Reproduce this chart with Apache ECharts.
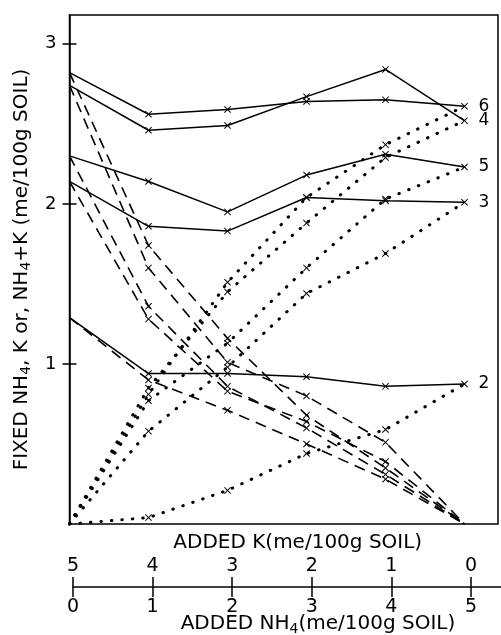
<!DOCTYPE html>
<html>
<head>
<meta charset="utf-8">
<script src="https://cdn.jsdelivr.net/npm/echarts@6/dist/echarts.min.js"></script>
<style>
html,body{margin:0;padding:0;background:#fff;}
#chart{width:501px;height:635px;}
</style>
</head>
<body>
<div id="chart"></div>
<script>
// ---- data ----
const addedNH4 = [0, 1, 2, 3, 4, 5];
const addedKTicks = [0, 1, 2, 3, 4, 5];
const yTicks = [1, 2, 3];
const soilLabels = ['6', '4', '5', '3', '2'];

// solid: fixed NH4 + K
const total6 = [2.82, 2.56, 2.59, 2.64, 2.65, 2.61];
const total4 = [2.74, 2.46, 2.49, 2.67, 2.84, 2.52];
const total5 = [2.30, 2.14, 1.95, 2.18, 2.31, 2.23];
const total3 = [2.14, 1.86, 1.83, 2.04, 2.02, 2.01];
const total2 = [1.29, 0.94, 0.94, 0.92, 0.86, 0.875];

// dashed: fixed K
const fixedK6 = [2.82, 1.74, 1.16, 0.68, 0.35, 0];
const fixedK4 = [2.74, 1.60, 1.01, 0.80, 0.51, 0];
const fixedK5 = [2.30, 1.36, 0.86, 0.60, 0.31, 0];
const fixedK3 = [2.14, 1.28, 0.83, 0.64, 0.39, 0];
const fixedK2 = [1.29, 0.90, 0.71, 0.50, 0.28, 0];

// dotted: fixed NH4
const fixedN6 = [0, 0.81, 1.51, 2.04, 2.37, 2.61];
const fixedN4 = [0, 0.85, 1.45, 1.88, 2.29, 2.52];
const fixedN5 = [0, 0.77, 1.13, 1.60, 2.03, 2.23];
const fixedN3 = [0, 0.58, 0.98, 1.44, 1.69, 2.01];
const fixedN2 = [0, 0.04, 0.21, 0.44, 0.59, 0.875];

const totals = [total6, total4, total5, total3, total2];
const fixedK = [fixedK6, fixedK4, fixedK5, fixedK3, fixedK2];
const fixedN = [fixedN6, fixedN4, fixedN5, fixedN3, fixedN2];

// ---- styling ----
const FONT = 'DejaVu Sans';
const XSYM = 'path://M1,0L5,4L9,0L10,1L6,5L10,9L9,10L5,6L1,10L0,9L4,5L0,1Z';
const INK = '#000';

function mk(vals, marked) {
  return vals.map((v, i) => ({
    value: [addedNH4[i], v],
    symbol: marked.indexOf(i) >= 0 ? XSYM : 'none'
  }));
}

const series = [];
totals.forEach((vals, s) => {
  series.push({
    type: 'line', xAxisIndex: 0, yAxisIndex: 0,
    data: mk(vals, [1, 2, 3, 4, 5]),
    symbolSize: 7, showAllSymbol: true,
    lineStyle: { color: INK, width: 1.5 },
    itemStyle: { color: INK },
    endLabel: { show: true, formatter: soilLabels[s], color: INK, fontSize: 17, fontFamily: FONT, distance: 14 },
    silent: true, animation: false, z: 3
  });
});
fixedK.forEach((vals) => {
  series.push({
    type: 'line', xAxisIndex: 0, yAxisIndex: 0,
    data: mk(vals, [1, 2, 3, 4]),
    symbolSize: 7, showAllSymbol: true,
    lineStyle: { color: INK, width: 1.6, type: [11, 7] },
    itemStyle: { color: INK },
    silent: true, animation: false, z: 2
  });
});
fixedN.forEach((vals) => {
  series.push({
    type: 'line', xAxisIndex: 0, yAxisIndex: 0,
    data: mk(vals, [1, 2, 3, 4]),
    symbolSize: 7, showAllSymbol: true,
    lineStyle: { color: INK, width: 3, type: [0.5, 10], cap: 'round' },
    itemStyle: { color: INK },
    silent: true, animation: false, z: 2
  });
});

const rich = {
  a: { fontSize: 20, fontFamily: FONT, color: INK },
  b: { fontSize: 14, fontFamily: FONT, color: INK, padding: [10, 0, 0, 0] }
};

const option = {
  backgroundColor: '#fff',
  animation: false,
  grid: [
    { left: 69.5, top: 15, width: 428.5, height: 509, show: true, borderColor: INK, borderWidth: 1.5, containLabel: false },
    { left: 73, top: 587, width: 428, height: 0, containLabel: false }
  ],
  xAxis: [
    {
      type: 'value', gridIndex: 0, min: 0, max: 428.5 / 79,
      axisLine: { show: false }, axisTick: { show: false }, axisLabel: { show: false }, splitLine: { show: false },
      name: '{a|ADDED K(me/100g SOIL)}', nameLocation: 'middle', nameGap: 9,
      nameTextStyle: { rich: rich, padding: [0, 0, 0, 28] }
    },
    {
      type: 'value', gridIndex: 1, position: 'bottom', min: 0, max: 428 / 79.6,
      axisLine: { show: true, lineStyle: { color: INK, width: 1.5 } },
      axisTick: { show: true, length: 10, customValues: addedNH4, lineStyle: { color: INK, width: 1.5 } },
      axisLabel: { show: true, customValues: addedNH4, margin: 11, color: INK, fontSize: 19, fontFamily: FONT },
      splitLine: { show: false },
      name: '{a|ADDED NH}{b|4}{a|(me/100g SOIL)}', nameLocation: 'middle', nameGap: 25,
      nameMoveOverlap: false,
      nameTextStyle: { rich: rich, padding: [0, 0, 0, 62] }
    },
    {
      type: 'value', gridIndex: 1, position: 'top', inverse: true, min: 5 - 428 / 79.6, max: 5,
      axisLine: { show: false },
      axisTick: { show: true, length: 10, customValues: addedKTicks, lineStyle: { color: INK, width: 1.5 } },
      axisLabel: { show: true, customValues: addedKTicks, margin: 11, color: INK, fontSize: 19, fontFamily: FONT },
      splitLine: { show: false }
    }
  ],
  yAxis: [
    {
      type: 'value', gridIndex: 0, min: 0, max: 3.18,
      axisLine: { show: true, lineStyle: { color: INK, width: 1.5 } },
      axisTick: { show: true, length: 7, customValues: yTicks, lineStyle: { color: INK, width: 1.5 } },
      axisLabel: { show: true, customValues: yTicks, margin: 13, color: INK, fontSize: 18, fontFamily: FONT },
      splitLine: { show: false },
      name: '{a|FIXED NH}{b|4}{a|, K or, NH}{b|4}{a|+K (me/100g SOIL)}',
      nameLocation: 'middle', nameGap: 36, nameRotate: 90,
      nameTextStyle: { rich: rich }
    },
    {
      type: 'value', gridIndex: 0, min: 0, max: 3.18, position: 'left',
      axisLine: { show: false },
      axisTick: { show: true, inside: true, length: 7, customValues: yTicks, lineStyle: { color: INK, width: 1.5 } },
      axisLabel: { show: false }, splitLine: { show: false }
    },
    {
      type: 'value', gridIndex: 1, min: 0, max: 1, show: false
    }
  ],
  series: series
};

const chart = echarts.init(document.getElementById('chart'), null, { renderer: 'canvas' });
chart.setOption(option);
</script>
</body>
</html>
